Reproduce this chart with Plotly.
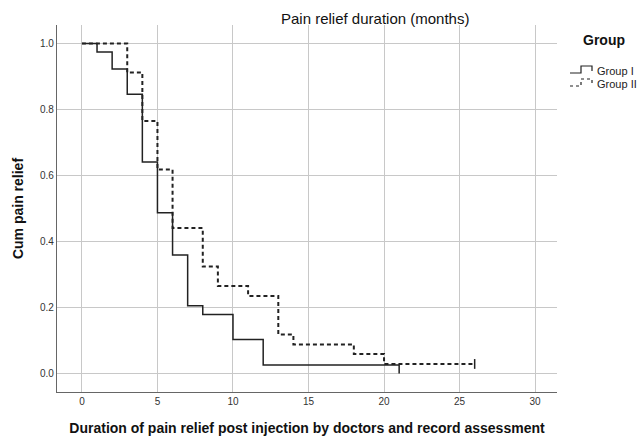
import plotly.graph_objects as go

# ---- data ----
g1_time = [0, 1, 2, 3, 4, 5, 6, 7, 8, 10, 12, 21]
g1_surv = [1.0, 0.974, 0.923, 0.846, 0.641, 0.487, 0.359, 0.205, 0.179, 0.103, 0.026, 0.0]

g2_time = [0, 3, 4, 5, 6, 8, 9, 11, 13, 14, 18, 20, 26]
g2_surv = [1.0, 0.912, 0.765, 0.618, 0.441, 0.324, 0.265, 0.235, 0.118, 0.088, 0.059, 0.029, 0.029]
g2_censor_time = [26]
g2_censor_surv = [0.029]

x_ticks = [0, 5, 10, 15, 20, 25, 30]
y_ticks = [0.0, 0.2, 0.4, 0.6, 0.8, 1.0]
series_names = ["Group I", "Group II"]

W, H = 641, 440
L, R, T, B = 57, 557, 25, 392
FONT = "Liberation Sans, Arial, sans-serif"
LINE = "#222222"


def px(x):
    return (x - L) / (R - L)


def py(y):
    return (B - y) / (B - T)


fig = go.Figure()
fig.add_trace(go.Scatter(x=g1_time, y=g1_surv, mode="lines", line_shape="hv",
                         line=dict(color=LINE, width=1.5), name=series_names[0],
                         showlegend=False))
fig.add_trace(go.Scatter(x=g2_time, y=g2_surv, mode="lines", line_shape="hv",
                         line=dict(color=LINE, width=2, dash="4px,3px"), name=series_names[1],
                         showlegend=False))
fig.add_trace(go.Scatter(x=g2_censor_time, y=g2_censor_surv, mode="markers",
                         marker=dict(symbol="line-ns-open", size=7, color=LINE,
                                     line=dict(color=LINE, width=1.5)),
                         showlegend=False, hoverinfo="skip"))

annotations = [
    dict(text="Pain relief duration (months)", x=px(375), y=py(19), xref="paper", yref="paper",
         showarrow=False, xanchor="center", yanchor="middle",
         font=dict(family=FONT, size=15, color="#111")),
    dict(text="<b>Group</b>", x=px(604), y=py(40), xref="paper", yref="paper",
         showarrow=False, xanchor="center", yanchor="middle",
         font=dict(family=FONT, size=14, color="#111")),
    dict(text=series_names[0], x=px(595), y=py(71), xref="paper", yref="paper",
         showarrow=False, xanchor="left", yanchor="middle",
         font=dict(family=FONT, size=11, color="#222")),
    dict(text=series_names[1], x=px(595), y=py(84), xref="paper", yref="paper",
         showarrow=False, xanchor="left", yanchor="middle",
         font=dict(family=FONT, size=11, color="#222")),
]

shapes = [
    # legend icon, solid step
    dict(type="path", xref="paper", yref="paper",
         path=f"M {px(570)} {py(73)} L {px(581)} {py(73)} L {px(581)} {py(66)} L {px(592)} {py(66)} L {px(592)} {py(71)}",
         line=dict(color=LINE, width=1.2)),
    # legend icon, dashed step
    dict(type="path", xref="paper", yref="paper",
         path=f"M {px(570)} {py(86)} L {px(581)} {py(86)} L {px(581)} {py(79)} L {px(592)} {py(79)} L {px(592)} {py(84)}",
         line=dict(color=LINE, width=1.2, dash="3px,3px")),
]

fig.update_layout(
    width=W, height=H,
    margin=dict(l=L, r=W - R, t=T, b=H - B, pad=0, autoexpand=False),
    paper_bgcolor="white", plot_bgcolor="white",
    font=dict(family=FONT, color="#222"),
    annotations=annotations, shapes=shapes,
    showlegend=False,
)
fig.update_xaxes(range=[-1.65, 31.45], tickvals=x_ticks, ticktext=[str(v) for v in x_ticks],
                 automargin=False,
                 showgrid=True, gridcolor="#c8c8c8", gridwidth=1, zeroline=False,
                 showline=True, linecolor="#666", linewidth=1.2, ticks="", ticklen=0,
                 tickfont=dict(family=FONT, size=10, color="#333"),
                 title=dict(text="<b>Duration of pain relief post injection by doctors and record assessment</b>",
                            font=dict(family=FONT, size=14, color="#111"), standoff=17))
fig.update_yaxes(range=[-0.056, 1.056], tickvals=y_ticks, ticktext=[f"{v:.1f}" for v in y_ticks],
                 automargin=False,
                 showgrid=True, gridcolor="#c8c8c8", gridwidth=1, zeroline=False,
                 showline=True, linecolor="#666", linewidth=1.2, ticks="", ticklen=0,
                 tickfont=dict(family=FONT, size=10, color="#333"),
                 title=dict(text="<b>Cum pain relief</b>",
                            font=dict(family=FONT, size=14, color="#111"), standoff=13))

fig.write_html("out.html", config={"displayModeBar": False},
               post_script=["document.body.style.margin='0';"])
